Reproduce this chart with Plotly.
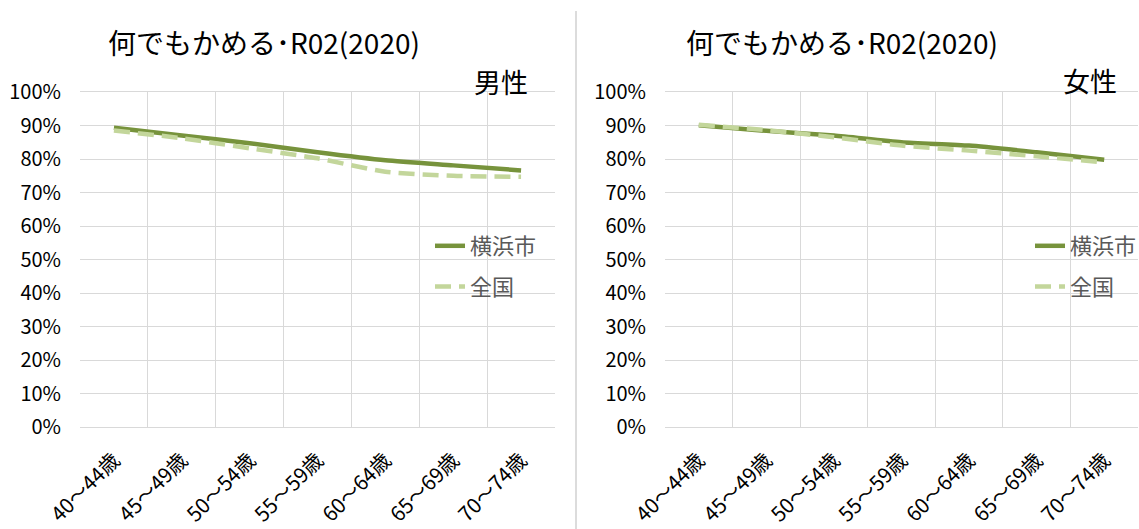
import plotly.graph_objects as go

categories = ["40～44歳", "45～49歳", "50～54歳", "55～59歳", "60～64歳", "65～69歳", "70～74歳"]
male_yokohama = [0.893, 0.870, 0.847, 0.820, 0.796, 0.781, 0.766]
male_national = [0.885, 0.862, 0.832, 0.802, 0.762, 0.750, 0.747]
female_yokohama = [0.901, 0.884, 0.870, 0.850, 0.840, 0.820, 0.798]
female_national = [0.902, 0.886, 0.865, 0.840, 0.825, 0.808, 0.790]
y_ticks = [0, 0.1, 0.2, 0.3, 0.4, 0.5, 0.6, 0.7, 0.8, 0.9, 1.0]
y_tick_text = ["0%", "10%", "20%", "30%", "40%", "50%", "60%", "70%", "80%", "90%", "100%"]
title_text = "何でもかめる･R02(2020)"
series_names = ["横浜市", "全国"]
panel_labels = ["男性", "女性"]

W, H = 1139, 529
FONT = "Noto Sans CJK JP"
C_SOLID = "#77933C"
C_DASH = "#C3D69B"
GRID = "#D9D9D9"

fig = go.Figure()

panels = [
    (male_yokohama, male_national, "x", "y", "legend"),
    (female_yokohama, female_national, "x2", "y2", "legend2"),
]
for i, (yk, nat, xa, ya, lg) in enumerate(panels):
    fig.add_trace(go.Scatter(
        x=categories, y=yk, mode="lines", name=series_names[0],
        line=dict(color=C_SOLID, width=4.5, shape="spline", smoothing=0.6),
        xaxis=xa, yaxis=ya, legend=lg, legendgroup=f"a{i}",
    ))
    fig.add_trace(go.Scatter(
        x=categories, y=nat, mode="lines", name=series_names[1],
        line=dict(color=C_DASH, width=4.5, dash="16px,8px", shape="spline", smoothing=0.6),
        xaxis=xa, yaxis=ya, legend=lg, legendgroup=f"b{i}",
    ))

def px_x(p):
    return p / W

def px_y(p):
    return 1 - p / H

xdoms = [(px_x(80), px_x(555)), (px_x(665), px_x(1138))]
ydom = (px_y(427), px_y(92))

common_x = dict(
    type="category", tickson="boundaries", showgrid=True, gridcolor=GRID, gridwidth=1.3,
    range=[-0.5, 6.5], tickangle=-45, ticks="", showline=True, linecolor=GRID, linewidth=1.3,
    mirror=True, tickfont=dict(family=FONT, size=20.5, color="#000000"), zeroline=False,
    automargin=False, ticklabelstandoff=12,
)
common_y = dict(
    range=[0, 1.0], tickvals=y_ticks, ticktext=y_tick_text, showgrid=True, gridcolor=GRID,
    gridwidth=1.3, ticks="", showline=False, zeroline=False, automargin=False,
    tickfont=dict(family=FONT, size=20, color="#000000"), ticklabelstandoff=18,
)

legend_common = dict(xanchor="left", yanchor="top", traceorder="grouped", tracegroupgap=9,
                     bgcolor="rgba(0,0,0,0)", font=dict(family=FONT, size=22, color="#595959"))

fig.update_layout(
    width=W, height=H, margin=dict(l=0, r=0, t=0, b=0, autoexpand=False),
    paper_bgcolor="white", plot_bgcolor="white",
    xaxis=dict(domain=list(xdoms[0]), anchor="y", **common_x),
    yaxis=dict(domain=list(ydom), anchor="x", **common_y),
    xaxis2=dict(domain=list(xdoms[1]), anchor="y2", **common_x),
    yaxis2=dict(domain=list(ydom), anchor="x2", **common_y),
    legend=dict(x=px_x(430), y=px_y(225), **legend_common),
    legend2=dict(x=px_x(1030), y=px_y(225), **legend_common),
    showlegend=True,
)

for cx in (264, 842):
    fig.add_annotation(text=title_text, x=px_x(cx), y=px_y(42), xref="paper", yref="paper",
                       showarrow=False, xanchor="center", yanchor="middle",
                       font=dict(family=FONT, size=28, color="#000000"))
for (cx, cy), lab in zip([(501, 81), (1090, 80)], panel_labels):
    fig.add_annotation(text=lab, x=px_x(cx), y=px_y(cy), xref="paper", yref="paper",
                       showarrow=False, xanchor="center", yanchor="middle",
                       font=dict(family=FONT, size=27, color="#000000"))

fig.add_shape(type="line", xref="paper", yref="paper", x0=px_x(576), x1=px_x(576),
              y0=0, y1=px_y(11), line=dict(color="#D0D0D0", width=1.5))

fig.write_html("out.html", config={"displayModeBar": False},
               post_script="document.body.style.margin='0';document.body.style.overflow='hidden';")
